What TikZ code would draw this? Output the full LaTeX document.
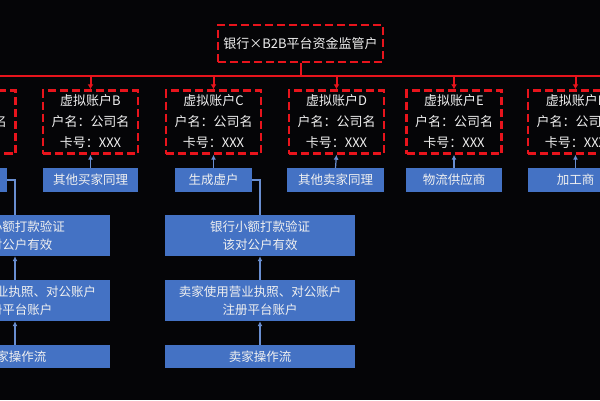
\documentclass[tikz,border=0pt]{standalone}
\usepackage{fontspec}
\setmainfont{Noto Sans CJK SC}
\usetikzlibrary{arrows.meta}
\definecolor{bg}{HTML}{050507}
\definecolor{rd}{HTML}{E8141C}
\definecolor{bl}{HTML}{4472C4}
\definecolor{tx}{HTML}{F0F0F0}
\tikzset{
 rbox/.style={draw=rd,line width=2.4pt,dash pattern=on 8pt off 4pt,text=tx,align=center,minimum width=95pt,minimum height=63pt,inner sep=0pt,font=\fontsize{13}{21}\selectfont},
 bbox/.style={fill=bl,text=tx,align=center,inner sep=0pt,minimum height=24pt,font=\fontsize{12.5}{18}\selectfont},
 rline/.style={draw=rd,line width=2pt},
 barrow/.style={draw=bl!80!white,line width=1.2pt,-{Latex[length=5pt,width=5pt]}},
 rarrow/.style={draw=rd,line width=2pt,-{Latex[length=5pt,width=6pt]}},
}
\begin{document}
\begin{tikzpicture}[x=1pt,y=-1pt]
\fill[bg] (0,0) rectangle (600,400);
\clip (0,0) rectangle (600,400);
\useasboundingbox (0,0) rectangle (600,400);
\node[rbox,minimum width=165pt,minimum height=37pt] (top) at (300.5,43.5) {银行×B2B平台资金监管户};
\coordinate (hL) at (-10,76);
\coordinate (hR) at (610,76);
\draw[rline] (hL) -- (hR);
\draw[rline] (top.south) -- (top.south |- hL);
\node[rbox] (a) at (-32,122) {虚拟账户A\\户名：公司名\\卡号：XXX};
\node[rbox] (b) at (90.5,122) {虚拟账户B\\户名：公司名\\卡号：XXX};
\node[rbox] (c) at (213.5,122) {虚拟账户C\\户名：公司名\\卡号：XXX};
\node[rbox] (d) at (336.5,122) {虚拟账户D\\户名：公司名\\卡号：XXX};
\node[rbox] (e) at (454,122) {虚拟账户E\\户名：公司名\\卡号：XXX};
\node[rbox] (f) at (575.5,122) {虚拟账户F\\户名：公司名\\卡号：XXX};
\foreach \n in {a,b,c,d,e,f}{\draw[rarrow] (\n.north |- hL) -- (\n.north);}
\node[bbox,minimum width=76pt] (a1) at (-31,180) {生成虚户};
\node[bbox,minimum width=95pt] (b1) at (90.5,180) {其他买家同理};
\node[bbox,minimum width=77pt] (c1) at (213.5,180) {生成虚户};
\node[bbox,minimum width=97pt] (d1) at (335.5,180) {其他卖家同理};
\node[bbox,minimum width=96pt] (e1) at (454,180) {物流供应商};
\node[bbox,minimum width=95pt] (f1) at (575.5,180) {加工商};
\foreach \n in {a,b,c,d,e,f}{\draw[barrow] (\n1.north) -- (\n.south);}
\foreach \n/\x in {a/15,c/260}{
 \node[bbox,minimum width=190pt,minimum height=41pt] (\n2) at (\x,235.5) {银行小额打款验证\\该对公户有效};
 \node[bbox,minimum width=190pt,minimum height=41pt] (\n3) at (\x,300.5) {卖家使用营业执照、对公账户\\注册平台账户};
 \node[bbox,minimum width=190pt,minimum height=23pt] (\n4) at (\x,356.5) {卖家操作流};
 \draw[barrow] (\n4.north) -- (\n3.south);
 \draw[barrow] (\n3.north) -- (\n2.south);
 \draw[draw=bl!80!white,line width=1.2pt] (\n2.north) |- (\n1.east);
}
\end{tikzpicture}
\end{document}
